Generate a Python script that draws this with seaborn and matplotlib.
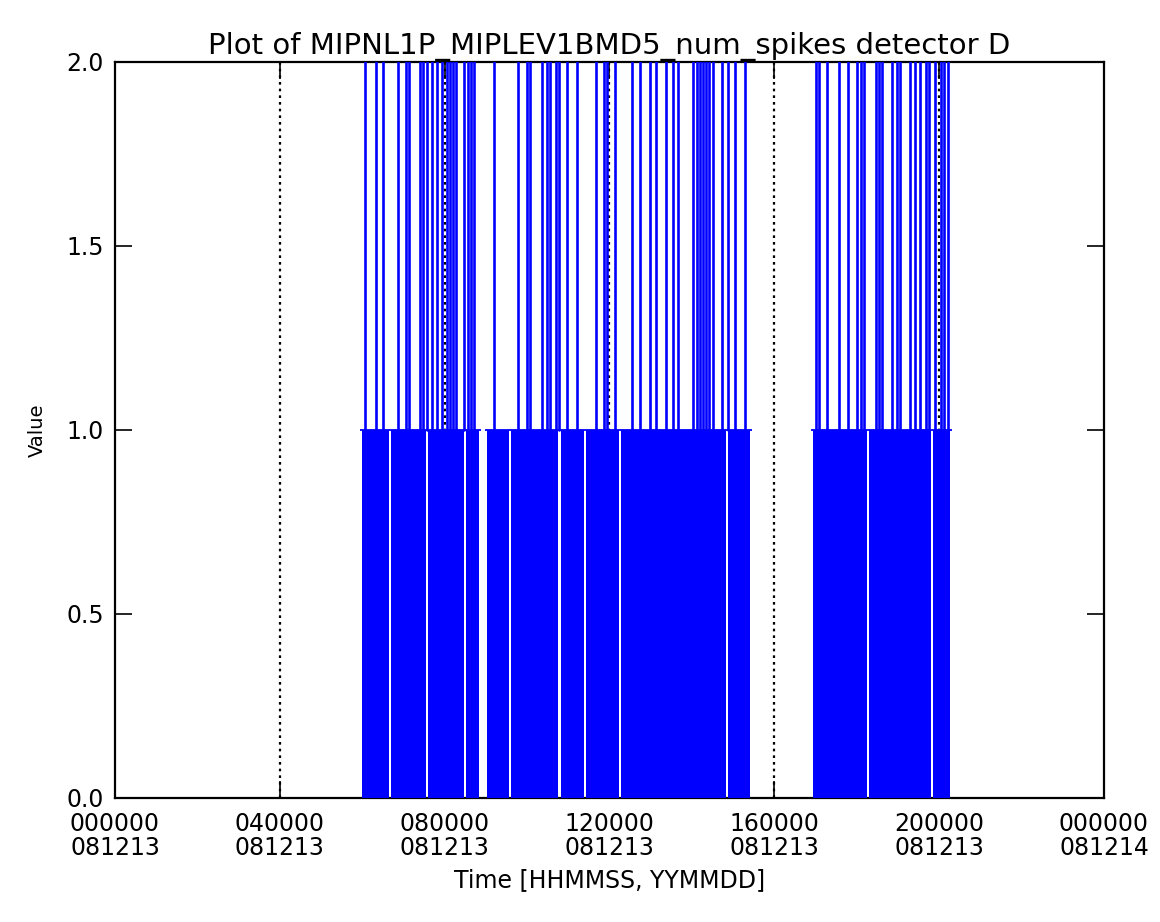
import matplotlib

matplotlib.use("Agg")
import matplotlib.pyplot as plt
import numpy as np
import pandas as pd
import seaborn as sns

TITLE = "Plot of MIPNL1P_MIPLEV1BMD5_num_spikes detector D"
X_LABEL = "Time [HHMMSS, YYMMDD]"
Y_LABEL = "Value"

# hours since 081213 000000
TICK_HOURS = [0, 4, 8, 12, 16, 20, 24]
TICK_LABELS = [
    "000000\n081213", "040000\n081213", "080000\n081213", "120000\n081213",
    "160000\n081213", "200000\n081213", "000000\n081214",
]
Y_TICKS = [0.0, 0.5, 1.0, 1.5, 2.0]

# spans where the counter keeps flipping between 0 and 1
BLOCK_START = [6.00, 9.03, 16.94]
BLOCK_END = [8.83, 15.41, 20.27]
# short stretches inside the blocks with no return to 0
GAP_HOURS = [6.67, 7.57, 8.50, 9.59, 10.78, 11.41, 12.26, 14.85, 18.28, 19.83]
GAP_WIDTH = [0.04, 0.04, 0.04, 0.04, 0.07, 0.04, 0.04, 0.04, 0.04, 0.04]

# times where the count reaches 2
SPIKE_HOURS = [
    6.07, 6.33, 6.50, 6.87, 7.06, 7.14, 7.40, 7.48, 7.57, 7.69, 7.82, 7.94,
    8.06, 8.13, 8.20, 8.28, 8.47, 8.57, 8.64, 8.71,
    9.20, 9.78, 10.00, 10.07, 10.36, 10.49, 10.56, 10.70, 10.78, 10.97,
    11.21, 11.67, 11.87, 11.94, 12.14, 12.55, 12.74, 12.99, 13.13, 13.37,
    13.54, 13.67, 14.03, 14.13, 14.20, 14.27, 14.34, 14.42, 14.51, 14.73,
    14.88, 15.05, 15.29,
    17.01, 17.09, 17.28, 17.57, 17.79, 18.01, 18.11, 18.18, 18.47, 18.54,
    18.62, 18.86, 18.98, 19.05, 19.30, 19.42, 19.54, 19.68, 19.76, 19.90,
    20.05, 20.12, 20.22,
]

BLUE = "#0000ff"


def block_segments():
    segs = []
    for start, end in zip(BLOCK_START, BLOCK_END):
        cuts = [(g, w) for g, w in zip(GAP_HOURS, GAP_WIDTH) if start < g < end]
        left = start
        for g, w in cuts:
            segs.append((left, g - w / 2))
            left = g + w / 2
        segs.append((left, end))
    return segs


sns.set_style("white")
plt.rcParams["font.family"] = ["DejaVu Sans"]
plt.rcParams["text.color"] = "black"
plt.rcParams["axes.labelcolor"] = "black"

fig = plt.figure(figsize=(11.6, 9.22), dpi=100)
ax = fig.add_axes([0.0991, 0.1345, 0.8526, 0.7983])

# dotted grid at the major time ticks
for h in TICK_HOURS[1:-1]:
    ax.axvline(h, color="black", linestyle=(0, (1.2, 1.8)), linewidth=1.6, zorder=1)

# filled 0..1 region
for left, right in block_segments():
    ax.fill_between([left, right], 0, 1, color=BLUE, linewidth=0, zorder=3)
for start, end in zip(BLOCK_START, BLOCK_END):
    ax.hlines(1.0, start - 0.05, end + 0.05, color=BLUE, linewidth=1.3, zorder=3)

# spikes up to 2
spikes = pd.DataFrame({
    "time": np.repeat(SPIKE_HOURS, 2),
    "value": np.tile([1.0, 2.0], len(SPIKE_HOURS)),
    "spike": np.repeat(np.arange(len(SPIKE_HOURS)), 2),
})
sns.lineplot(data=spikes, x="time", y="value", units="spike", estimator=None,
             color=BLUE, linewidth=1.9, ax=ax, zorder=3, legend=False)

ax.set_xlim(0, 24)
ax.set_ylim(0, 2)
ax.set_xticks(TICK_HOURS)
ax.set_xticklabels(TICK_LABELS, linespacing=1.0)
ax.set_yticks(Y_TICKS)
ax.set_yticklabels([f"{v:.1f}" for v in Y_TICKS])
ax.tick_params(axis="both", direction="in", length=12, width=1.2, colors="black",
               labelsize=17, pad=10, top=True, right=True, bottom=True, left=True)
ax.tick_params(axis="y", pad=8)
for s in ax.spines.values():
    s.set_color("black")
    s.set_linewidth(1.6)
    s.set_zorder(2.5)

ax.set_xlabel(X_LABEL, fontsize=17, labelpad=6, color="black")
ax.set_ylabel(Y_LABEL, fontsize=14, labelpad=14, color="black")
ax.set_title(TITLE, fontsize=21, pad=6, color="black")

fig.savefig("out.png", dpi=100, facecolor="white")
